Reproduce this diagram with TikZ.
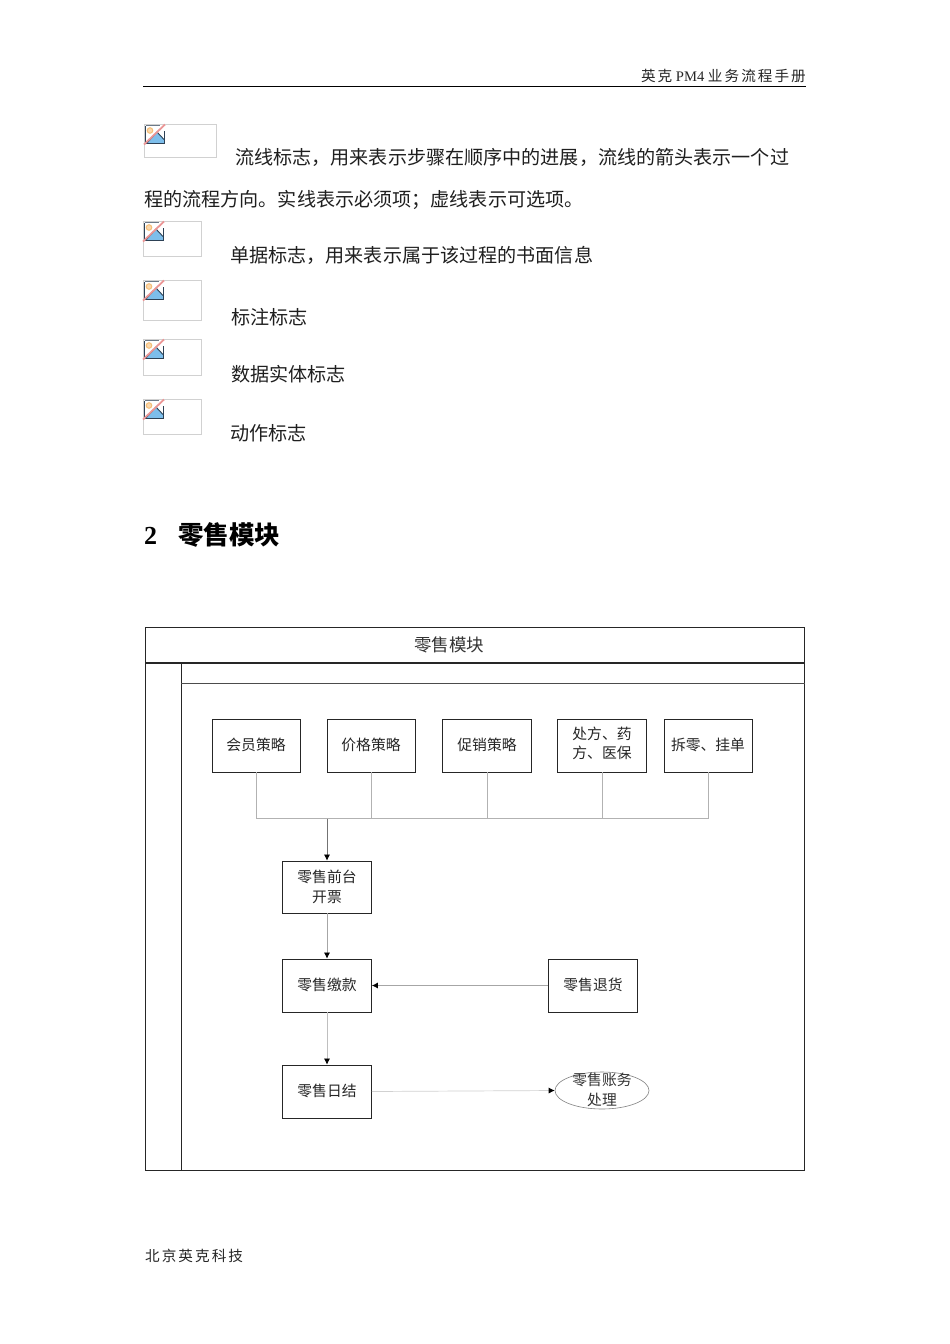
\documentclass[tikz,border=0pt]{standalone}
\usepackage{fontspec}
\usetikzlibrary{arrows.meta,shapes.geometric}
\setmainfont{Liberation Serif}
\newfontfamily\cjk{Noto Sans CJK SC}
\newfontfamily\cjkspaced[LetterSpace=14]{Noto Sans CJK SC}
\newfontfamily\latspaced{Liberation Serif}
\definecolor{iconblue}{RGB}{125,190,235}
\definecolor{icondark}{RGB}{45,65,85}
\definecolor{iconpink}{RGB}{235,150,150}
\definecolor{iconsun}{RGB}{245,190,120}
\newcommand{\brokenimg}[4]{%
  \draw[draw=black!18,line width=0.9pt,fill=white] (#1,#2) rectangle (#3,#4);
  \begin{scope}[shift={(#1,#2)}]
    \fill[iconblue] (2.5,19.5) -- (13,8) -- (20,15.5) -- (20,19.5) -- cycle;
    \draw[icondark,line width=0.9pt] (2.5,19.5) -- (13,8) -- (20,15.5);
    \draw[icondark,line width=1.1pt] (1.5,1.5) -- (1.5,19.8) -- (20.2,19.8) -- (20.2,7);
    \draw[icondark!70,line width=0.7pt] (1.5,1.5) -- (16,1.5);
    \draw[iconsun,line width=1pt,fill=iconsun!60!white] (6,6.5) circle (2.8);
    \draw[iconpink,line width=1.8pt] (0,20.5) -- (21,0.5);
  \end{scope}}
\tikzset{
  x=1pt,y=-1pt,
  bodytext/.style={anchor=mid west,inner sep=0pt,font=\fontsize{19.1}{20}\selectfont\cjk,text=black!88},
  flowbox/.style={draw=black!85,line width=0.8pt,rectangle,inner sep=0pt,align=center,font=\fontsize{14.8}{19.5}\selectfont\cjk,text=black!85,fill=white},
  raisedtext/.style={text depth=2.5pt},
  raisedmore/.style={text depth=6pt},
  wire/.style={draw=black!30,line width=0.7pt},
  arrowwire/.style={draw=black!35,line width=0.7pt,-{Latex[length=6pt,width=6pt,black]}},
  frameline/.style={draw=black!85,line width=0.9pt}
}
\begin{document}
\begin{tikzpicture}
\useasboundingbox (0,0) rectangle (950,1344);
\fill[white] (0,0) rectangle (950,1344);
% header
\node[anchor=base east,inner sep=0pt,text=black!85] (head) at (806,81.5) {\fontsize{14.6}{16}\selectfont\cjkspaced 英克{\latspaced\ PM4 }业务流程手册};
\draw[black,line width=1pt] (143,86.5) -- (806,86.5);
% legend
\brokenimg{144}{124}{216}{157}
\brokenimg{143}{221}{201}{256}
\brokenimg{143}{280}{201}{320}
\brokenimg{143}{339}{201}{375}
\brokenimg{143}{399}{201}{434}
\node[bodytext] (t1) at (235,162.5) {流线标志，用来表示步骤在顺序中的进展，流线的箭头表示一个过};
\node[bodytext] (t2) at (144,204.5) {程的流程方向。实线表示必须项；虚线表示可选项。};
\node[bodytext] (t3) at (230,260.5) {单据标志，用来表示属于该过程的书面信息};
\node[bodytext] (t4) at (231,322) {标注标志};
\node[bodytext] (t5) at (231,379) {数据实体标志};
\node[bodytext] (t6) at (230,438) {动作标志};
% heading
\node[anchor=mid west,inner sep=0pt,font=\fontsize{26}{28}\selectfont\bfseries] (h2n) at (144,542) {2};
\node[anchor=mid west,inner sep=0pt,font=\fontsize{25.5}{28}\selectfont\bfseries\cjk] (h2) at (178,542) {零售模块};
% frame
\draw[frameline] (145,627.5) rectangle (804.5,1170.5);
\draw[frameline,line width=1.2pt] (145,663) -- (804.5,663);
\draw[frameline] (181,663) -- (181,1170.5);
\draw[frameline,draw=black!70] (181,683) -- (804.5,683);
\node[inner sep=0pt,font=\fontsize{17.5}{20}\selectfont\cjk,text=black!80] (title) at (449,645) {零售模块};
% nodes
\node[flowbox,raisedtext,minimum width=88pt,minimum height=53pt] (m1) at (256,745.5) {会员策略};
\node[flowbox,raisedtext,minimum width=88pt,minimum height=53pt] (m2) at (371,745.5) {价格策略};
\node[flowbox,raisedtext,minimum width=89pt,minimum height=53pt] (m3) at (487,745.5) {促销策略};
\node[flowbox,raisedmore,minimum width=89pt,minimum height=53pt] (m4) at (602,745.5) {处方、药\\方、医保};
\node[flowbox,raisedtext,minimum width=88pt,minimum height=53pt] (m5) at (708,745.5) {拆零、挂单};
\node[flowbox,minimum width=89pt,minimum height=52pt] (front) at (327,887) {零售前台\\开票};
\node[flowbox,raisedtext,minimum width=89pt,minimum height=53pt] (pay) at (327,985.5) {零售缴款};
\node[flowbox,raisedtext,minimum width=89pt,minimum height=53pt] (ret) at (593,985.5) {零售退货};
\node[flowbox,raisedtext,minimum width=89pt,minimum height=53pt] (day) at (327,1091.5) {零售日结};
\coordinate (bus) at (327,818.5);
% connectors
\draw[wire] (m1.south) |- (bus);
\draw[wire] (m2.south) |- (bus);
\draw[wire] (m3.south) |- (bus);
\draw[wire] (m4.south) |- (bus);
\draw[wire] (m5.south) |- (bus);
\draw[arrowwire,draw=black!55] (bus) -- (front.north);
\draw[arrowwire] (front.south) -- (pay.north);
\draw[arrowwire,draw=black!25] (pay.south) -- (day.north);
\draw[arrowwire] (ret.west) -- (pay.east);
\node[ellipse,draw=black!50,line width=0.6pt,minimum width=94pt,minimum height=37pt,inner sep=0pt] (acc) at (602,1090.5) {};
\node[inner sep=0pt,align=center,font=\fontsize{14.8}{19.5}\selectfont\cjk,text=black!80] (acclabel) at (602,1090) {零售账务\\处理};
\draw[arrowwire,draw=black!18] (day.east) -- (acc.west);
% footer
\node[anchor=base west,inner sep=0pt,text=black!85] (foot) at (145,1261.5) {\fontsize{14.6}{16}\selectfont\cjkspaced 北京英克科技};
\end{tikzpicture}
\end{document}
